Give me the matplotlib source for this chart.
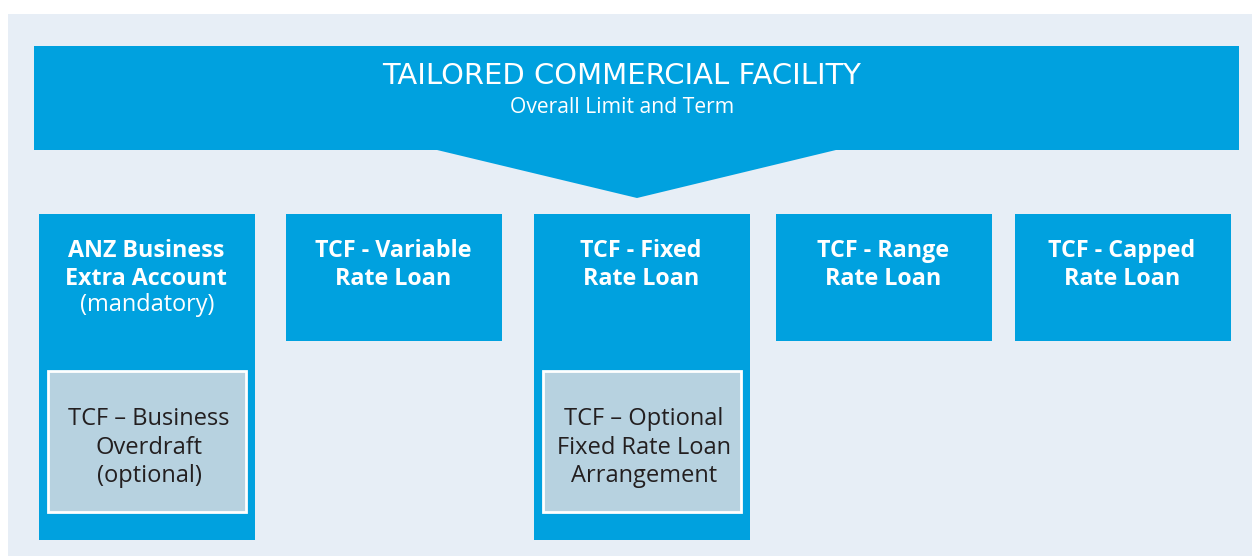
import matplotlib
matplotlib.use("Agg")
import matplotlib.pyplot as plt
from matplotlib.patches import Rectangle, Polygon

# ---- content ----
title = "TAILORED COMMERCIAL FACILITY"
subtitle = "Overall Limit and Term"
box_titles = [["ANZ Business", "Extra Account"], ["TCF - Variable", "Rate Loan"],
              ["TCF - Fixed", "Rate Loan"], ["TCF - Range", "Rate Loan"],
              ["TCF - Capped", "Rate Loan"]]
box_notes = ["(mandatory)", "", "", "", ""]
inner_labels = {0: ["TCF \u2013 Business", "Overdraft", "(optional)"],
                2: ["TCF \u2013 Optional", "Fixed Rate Loan", "Arrangement"]}

BLUE = "#00a1df"
BG = "#e7eef6"
INNER = "#b7d2e0"
DARK = "#231f20"
FONT = ["Open Sans", "DejaVu Sans"]
TITLE_FONT = ["DejaVu Sans"]

W, H = 1252, 556
fig = plt.figure(figsize=(W / 100, H / 100), dpi=100)
ax = fig.add_axes([0, 0, 1, 1])
ax.set_xlim(0, W)
ax.set_ylim(H, 0)
ax.axis("off")
renderer = fig.canvas.get_renderer()


def fit_size(s, width, **kw):
    t = ax.text(0, 0, s, fontsize=10, **kw)
    w = t.get_window_extent(renderer).width
    t.remove()
    return 10 * width / w


# background panel
ax.add_patch(Rectangle((8, 14), W - 8, H - 14, color=BG, lw=0))
# top banner with arrow
ax.add_patch(Rectangle((34, 46), 1239 - 34, 150 - 46, color=BLUE, lw=0))
ax.add_patch(Polygon([(435, 149.5), (838, 149.5), (637, 198)], closed=True, color=BLUE, lw=0))

fs_t = fit_size(title, 477, family=TITLE_FONT)
ax.text(622, 84, title, ha="center", va="baseline", color="white", fontsize=fs_t, family=TITLE_FONT)
fs_s = fit_size(subtitle, 225, family=FONT)
ax.text(622, 113, subtitle, ha="center", va="baseline", color="white", fontsize=fs_s, family=FONT)

fs_box = fit_size("ANZ Business", 156, family=FONT, fontweight="bold")
fs_note = fit_size("(mandatory)", 134, family=FONT)
fs_in = fit_size("Fixed Rate Loan", 174, family=FONT)

# boxes
box_x = [39, 286, 534, 776, 1015]
box_w = 216
title_base = [257, 285]
inner_base = [425, 453.5, 482]
for i, (bx, lines, n) in enumerate(zip(box_x, box_titles, box_notes)):
    bottom = 540 if i in inner_labels else 341
    ax.add_patch(Rectangle((bx, 214), box_w, bottom - 214, color=BLUE, lw=0))
    cx = bx + box_w / 2
    for ln, yb in zip(lines, title_base):
        ax.text(cx - 1, yb, ln, ha="center", va="baseline", color="white", fontsize=fs_box,
                fontweight="bold", family=FONT)
    if n:
        ax.text(cx, 311, n, ha="center", va="baseline", color="white", fontsize=fs_note, family=FONT)
    if i in inner_labels:
        ax.add_patch(Rectangle((bx + 9, 371), 198, 141, facecolor=INNER, edgecolor="white", lw=2))
        for ln, yb in zip(inner_labels[i], inner_base):
            ax.text(bx + 9 + 101, yb, ln, ha="center", va="baseline", color=DARK,
                    fontsize=fs_in, family=FONT)

fig.savefig("out.png", dpi=100)
